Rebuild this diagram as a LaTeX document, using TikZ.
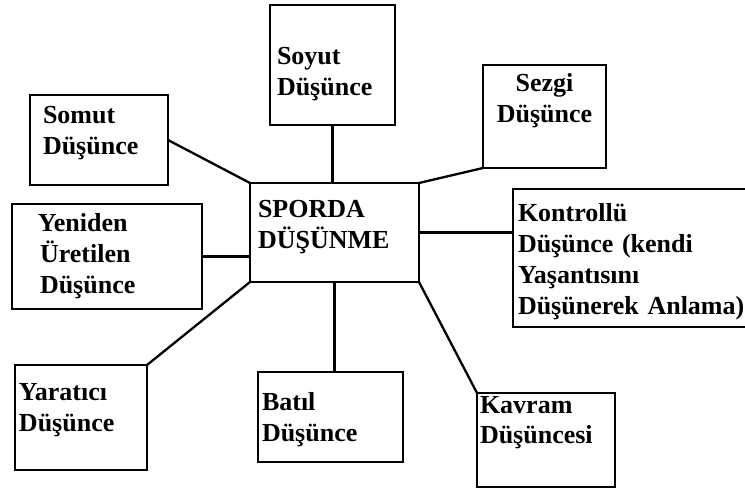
\documentclass[tikz,border=0pt]{standalone}
\usepackage{fontspec}
\setmainfont{Liberation Serif}
\begin{document}
\begin{tikzpicture}[x=1pt, y=-1pt,
    box/.style={draw, line width=2.3pt, anchor=north west, align=left,
      inner ysep=0pt, outer sep=0pt, font=\bfseries\fontsize{26}{31}\selectfont},
    link/.style={line width=2.3pt}]
  \useasboundingbox (0,0) rectangle (745,489);
  % centre box
  \node[box, inner xsep=8pt, text width=153pt, text height=35pt, text depth=64pt]
    (sporda) at (250,183) {SPORDA\\DÜŞÜNME};
  % the boxes round it
  \node[box, inner xsep=7pt, text width=111pt, text height=60pt, text depth=60pt]
    (soyut) at (270,5) {Soyut\\Düşünce};
  \node[box, inner xsep=13pt, text width=112pt, text height=29pt, text depth=61pt]
    (somut) at (30,95) {Somut\\Düşünce};
  \node[box, align=center, inner xsep=4pt, text width=115pt, text height=27pt, text depth=76pt]
    (sezgi) at (483,65) {Sezgi\\Düşünce};
  \node[box, inner xsep=5pt, text width=230pt, text height=33pt, text depth=105pt]
    (kontrollu) at (513,189) {Kontrollü\\Düşünce (kendi\\Yaşantısını\\Düşünerek Anlama)};
  \node[box, inner xsep=28pt, text width=134pt, text height=28pt, text depth=77pt]
    (yeniden) at (12,204) {\hspace*{-2pt}Yeniden\\Üretilen\\Düşünce};
  \node[box, inner xsep=4pt, text width=124pt, text height=35pt, text depth=70pt]
    (yaratici) at (15,365) {Yaratıcı\\Düşünce};
  \node[box, inner xsep=4pt, text width=137pt, text height=38pt, text depth=52pt]
    (batil) at (258,372) {Batıl\\Düşünce};
  \node[box, inner xsep=3pt, text width=132pt, text height=20pt, text depth=74pt]
    (kavram) at (477,393) {Kavram\\Düşüncesi};
  % connectors
  \draw[link] (soyut.south) -- (soyut.south |- sporda.north);
  \draw[link] (somut.east) -- (sporda.north west);
  \draw[link] (sezgi.south west) -- (sporda.north east);
  \draw[link] (sporda.east) -- (sporda.east -| kontrollu.west);
  \draw[link] (yeniden.east) -- (yeniden.east -| sporda.west);
  \draw[link] (yaratici.north east) -- (sporda.south west);
  \draw[link] (sporda.south) -- (sporda.south |- batil.north);
  \draw[link] (sporda.south east) -- (kavram.north west);
\end{tikzpicture}
\end{document}
